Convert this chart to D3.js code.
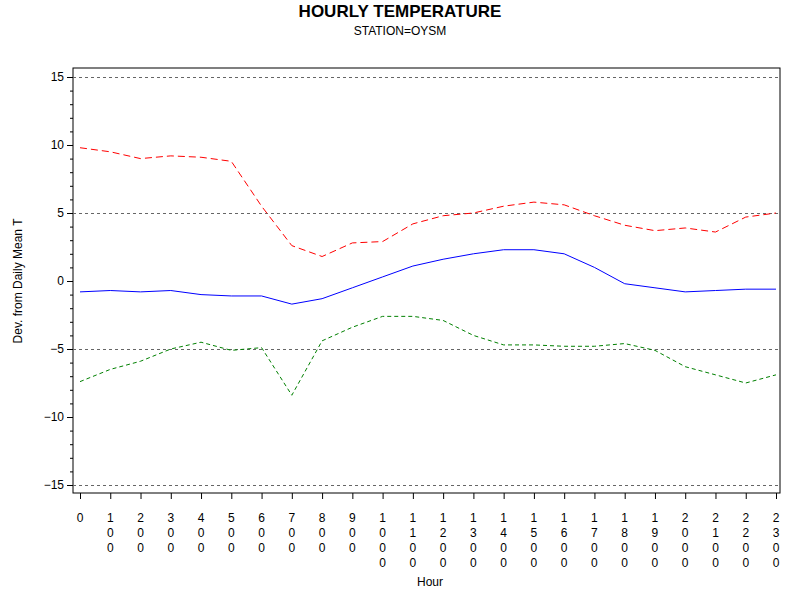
<!DOCTYPE html>
<html><head><meta charset="utf-8">
<script src="https://cdn.jsdelivr.net/npm/d3@7"></script>
<style>body{margin:0;background:#fff}text{font-family:Arial,"Liberation Sans",sans-serif}</style>
</head><body><svg id="c" width="800" height="600"></svg>
<script>
var hours = d3.range(0, 24).map(function (h) { return h * 100; });
var meanDev = [-0.8, -0.7, -0.8, -0.7, -1.0, -1.1, -1.1, -1.7, -1.3, -0.5, 0.3, 1.1, 1.6, 2.0, 2.3, 2.3, 2.0, 1.0, -0.2, -0.5, -0.8, -0.7, -0.6, -0.6];
var maxDev = [9.8, 9.5, 9.0, 9.2, 9.1, 8.8, 5.5, 2.6, 1.8, 2.8, 2.9, 4.2, 4.8, 5.0, 5.5, 5.8, 5.6, 4.8, 4.1, 3.7, 3.9, 3.6, 4.7, 5.0];
var minDev = [-7.4, -6.5, -5.9, -5.0, -4.5, -5.1, -4.9, -8.4, -4.4, -3.4, -2.6, -2.6, -2.9, -4.0, -4.7, -4.7, -4.8, -4.8, -4.6, -5.1, -6.3, -6.9, -7.5, -6.9];
var yTicks = [-15, -10, -5, 0, 5, 10, 15];
var refLines = [-15, -5, 5, 15];

var svg = d3.select("#c");
var L = 73, R = 780, T = 68, B = 493;
var x = d3.scaleLinear().domain([0, 2300]).range([80, 776]);
var y = d3.scaleLinear().domain([-15, 15]).range([485, 77]);

svg.append("text").attr("x", 400).attr("y", 17).attr("text-anchor", "middle")
  .style("font-size", "17px").style("font-weight", "bold").text("HOURLY TEMPERATURE");
svg.append("text").attr("x", 400).attr("y", 35).attr("text-anchor", "middle")
  .style("font-size", "12px").text("STATION=OYSM");

svg.append("rect").attr("x", L).attr("y", T).attr("width", R - L).attr("height", B - T)
  .attr("fill", "none").attr("stroke", "#000");

svg.selectAll(".ref").data(refLines).enter().append("line")
  .attr("x1", L).attr("x2", R).attr("y1", function (d) { return Math.round(y(d)) + 0.5; })
  .attr("y2", function (d) { return Math.round(y(d)) + 0.5; })
  .attr("stroke", "#666").attr("stroke-width", 1).attr("stroke-dasharray", "3,3");

// y axis
var ya = svg.append("g").attr("transform", "translate(" + L + ",0)");
ya.call(d3.axisLeft(y).tickValues(yTicks).tickSize(6).tickFormat(d3.format("d")));
ya.append("g").call(d3.axisLeft(y).tickValues(d3.range(-15, 16)).tickSize(3).tickFormat(""));
ya.selectAll(".domain").remove();
ya.selectAll("text").style("font-size", "12px").attr("fill", "#000").attr("font-family", "Arial");
svg.append("text").attr("transform", "translate(22,281) rotate(-90)").attr("text-anchor", "middle")
  .style("font-size", "12px").text("Dev. from Daily Mean T");

// x axis
var xa = svg.append("g").attr("transform", "translate(0," + B + ")");
xa.call(d3.axisBottom(x).tickValues(hours).tickSize(6).tickFormat(""));
xa.selectAll(".domain").remove();
hours.forEach(function (h) {
  var s = String(h);
  s.split("").forEach(function (ch, i) {
    svg.append("text").attr("x", x(h)).attr("y", 522 + i * 15).attr("text-anchor", "middle")
      .style("font-size", "12px").text(ch);
  });
});
svg.append("text").attr("x", 430).attr("y", 586).attr("text-anchor", "middle")
  .style("font-size", "12px").text("Hour");

function draw(vals, color, dash) {
  svg.append("path").datum(vals)
    .attr("d", d3.line().x(function (d, i) { return x(hours[i]); }).y(function (d) { return y(d); }))
    .attr("fill", "none").attr("stroke", color).attr("stroke-width", 1)
    .attr("stroke-dasharray", dash);
}
draw(maxDev, "#ff0000", "7,4");
draw(meanDev, "#0000ff", null);
draw(minDev, "#008000", "4,3");
</script></body></html>
